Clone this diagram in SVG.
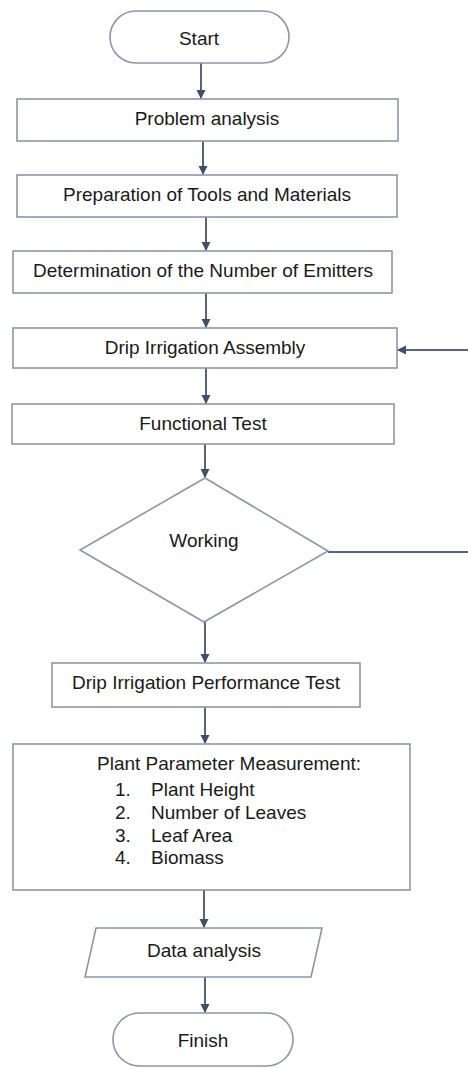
<svg xmlns="http://www.w3.org/2000/svg" width="468" height="1068" viewBox="0 0 468 1068">
<defs>
<style>
.s{fill:#fff;stroke:#8a97aa;stroke-width:1.6}
.c{fill:none;stroke:#56657b;stroke-width:2}
.t{font-family:"Liberation Sans",Arial,sans-serif;font-size:19px;fill:#1a1a1a}
.m{text-anchor:middle}
</style>
<marker id="ah" markerWidth="10" markerHeight="10" refX="8" refY="5" orient="auto" markerUnits="userSpaceOnUse">
<path d="M0,0.5 L9,5 L0,9.5 Z" fill="#3f4f66"/>
</marker>
</defs>
<rect width="468" height="1068" fill="#fff"/>
<g id="connectors">
<line class="c" x1="201" y1="63" x2="201" y2="98" marker-end="url(#ah)"/>
<line class="c" x1="203" y1="141" x2="203" y2="174" marker-end="url(#ah)"/>
<line class="c" x1="206" y1="217" x2="206" y2="250" marker-end="url(#ah)"/>
<line class="c" x1="206" y1="293" x2="206" y2="327" marker-end="url(#ah)"/>
<line class="c" x1="206" y1="368" x2="206" y2="403" marker-end="url(#ah)"/>
<line class="c" x1="205" y1="444" x2="205" y2="477" marker-end="url(#ah)"/>
<line class="c" x1="205" y1="622" x2="205" y2="662" marker-end="url(#ah)"/>
<line class="c" x1="205" y1="707" x2="205" y2="743" marker-end="url(#ah)"/>
<line class="c" x1="204" y1="890" x2="204" y2="927" marker-end="url(#ah)"/>
<line class="c" x1="205" y1="977" x2="205" y2="1012" marker-end="url(#ah)"/>
<line class="c" x1="328" y1="552" x2="468" y2="552" stroke="#8a97aa"/>
<line class="c" x1="468" y1="350" x2="398" y2="350" marker-end="url(#ah)"/>
</g>
<g id="start">
<rect class="s" x="110" y="11" width="179" height="52" rx="26" ry="26"/>
<text class="t m" x="199" y="45">Start</text>
</g>
<g id="problem">
<rect class="s" x="17" y="99" width="381" height="42"/>
<text class="t m" x="207" y="125">Problem analysis</text>
</g>
<g id="preparation">
<rect class="s" x="17" y="175" width="380" height="42"/>
<text class="t m" x="207" y="201">Preparation of Tools and Materials</text>
</g>
<g id="emitters">
<rect class="s" x="13" y="251" width="379" height="42"/>
<text class="t m" x="203" y="277">Determination of the Number of Emitters</text>
</g>
<g id="assembly">
<rect class="s" x="13" y="328" width="384" height="40"/>
<text class="t m" x="205" y="354">Drip Irrigation Assembly</text>
</g>
<g id="functional">
<rect class="s" x="12" y="404" width="382" height="40"/>
<text class="t m" x="203" y="430">Functional Test</text>
</g>
<g id="working">
<polygon class="s" points="205,478 328,551 204,622 80,550"/>
<text class="t m" x="204" y="547">Working</text>
</g>
<g id="performance">
<rect class="s" x="52" y="663" width="308" height="44"/>
<text class="t m" x="206" y="689">Drip Irrigation Performance Test</text>
</g>
<g id="measurement">
<rect class="s" x="13" y="744" width="397" height="146"/>
<text class="t" x="97" y="770">Plant Parameter Measurement:</text>
<text class="t" x="115" y="796">1.</text><text class="t" x="151" y="796">Plant Height</text>
<text class="t" x="115" y="819">2.</text><text class="t" x="151" y="819">Number of Leaves</text>
<text class="t" x="115" y="842">3.</text><text class="t" x="151" y="842">Leaf Area</text>
<text class="t" x="115" y="864">4.</text><text class="t" x="151" y="864">Biomass</text>
</g>
<g id="data">
<polygon class="s" points="96,928 322,928 311,977 85,977"/>
<text class="t m" x="204" y="957">Data analysis</text>
</g>
<g id="finish">
<rect class="s" x="113" y="1013" width="180" height="53" rx="26.5" ry="26.5"/>
<text class="t m" x="203" y="1047">Finish</text>
</g>
</svg>
